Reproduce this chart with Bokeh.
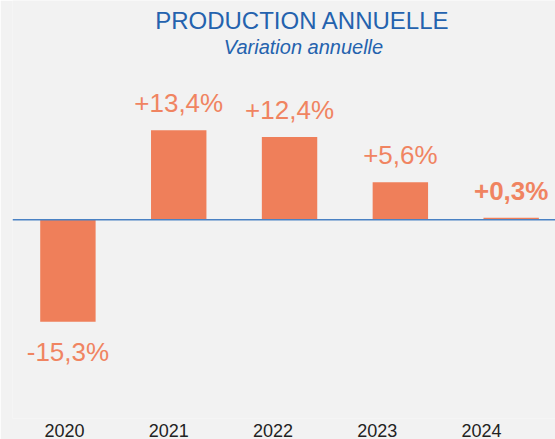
from bokeh.plotting import figure
from bokeh.models import ColumnDataSource, Span, Label, Range1d, LinearAxis, FixedTicker
from bokeh.core.properties import value
from bokeh.embed import file_html
from bokeh.resources import INLINE

years = ["2020", "2021", "2022", "2023", "2024"]
variation = [-15.3, 13.4, 12.4, 5.6, 0.3]
labels = ["-15,3%", "+13,4%", "+12,4%", "+5,6%", "+0,3%"]
label_styles = ["normal", "normal", "normal", "normal", "bold"]

BAR = "#ef7f5a"
TXT = "#f08461"
BLUE = "#2462ae"
FONT = "Liberation Sans"

pos = list(range(len(years)))
src = ColumnDataSource(dict(
    x=pos, top=variation, label=labels, style=label_styles,
    pos_label=[l if v >= 0 else "" for l, v in zip(labels, variation)],
    neg_label=[l if v < 0 else "" for l, v in zip(labels, variation)],
))

p = figure(width=555, height=439, output_backend="svg", toolbar_location=None,
           x_range=Range1d(-0.5, 4.4), y_range=Range1d(-29.79, 32.84),
           min_border_left=12, min_border_right=0, min_border_top=0, min_border_bottom=0,
           background_fill_color="#f2f2f2", border_fill_color="#f2f2f2")
p.outline_line_color = None
p.grid.visible = False
p.xaxis.visible = False
p.yaxis.visible = False

p.vbar(x="x", top="top", bottom=0, width=0.5, source=src, fill_color=BAR, line_color=None)
p.add_layout(Span(location=0, dimension="width", line_color="#4a82c4", line_width=1.5))

p.text(x="x", y="top", text="pos_label", source=src, text_align="center",
       text_baseline="alphabetic", y_offset=-27, text_color=TXT,
       text_font=value(FONT), text_font_size="26px", text_font_style="style")
p.text(x="x", y="top", text="neg_label", source=src, text_align="center",
       text_baseline="alphabetic", y_offset=30, text_color=TXT,
       text_font=value(FONT), text_font_size="26px", text_font_style="style")

# year labels axis on its own range (labels sit on a slightly different spacing)
p.extra_x_ranges = {"yrs": Range1d(-0.5, 4.71)}
ax = LinearAxis(x_range_name="yrs", ticker=FixedTicker(ticks=pos),
                major_label_overrides={i: y for i, y in enumerate(years)})
ax.axis_line_color = None
ax.major_tick_line_color = None
ax.minor_tick_line_color = None
ax.major_tick_in = 0
ax.major_tick_out = 0
ax.major_label_standoff = 5
ax.major_label_text_font = FONT
ax.major_label_text_font_size = "18px"
ax.major_label_text_color = "#222222"
p.add_layout(ax, "below")

p.add_layout(Label(x=290, y=398, x_units="screen", y_units="screen", text="PRODUCTION ANNUELLE",
                   text_align="center", text_baseline="alphabetic", text_color=BLUE,
                   text_font=FONT, text_font_size="24px"))
p.add_layout(Label(x=291, y=372, x_units="screen", y_units="screen", text="Variation annuelle",
                   text_align="center", text_baseline="alphabetic", text_color=BLUE,
                   text_font=FONT, text_font_size="20px", text_font_style="italic"))

open("out.html", "w").write(file_html(p, INLINE))
